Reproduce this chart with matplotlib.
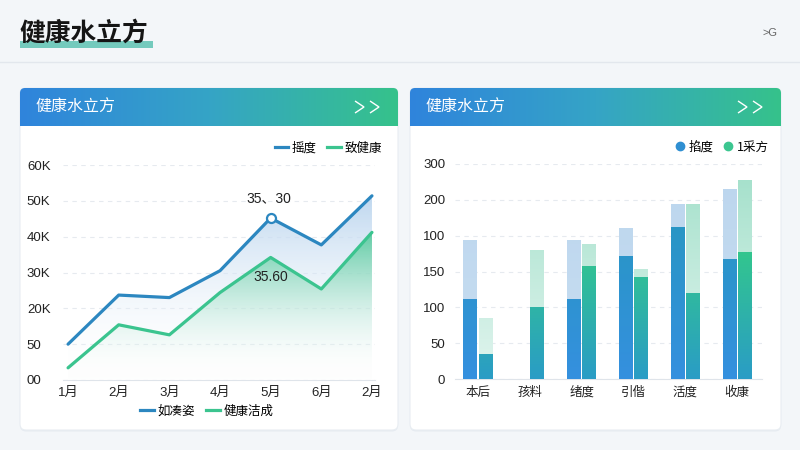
import numpy as np
import matplotlib.pyplot as plt
from matplotlib.patches import FancyBboxPatch, Rectangle
from matplotlib.lines import Line2D
from matplotlib.colors import to_rgba

plt.rcParams['font.family'] = ['Noto Sans CJK SC', 'DejaVu Sans']
NUMFONT = ['Liberation Sans', 'Noto Sans CJK SC', 'DejaVu Sans']

# ---- data ----
months = ['1月', '2月', '3月', '4月', '5月', '6月', '2月']
visits = [10.0, 23.7, 23.0, 30.5, 45.2, 37.7, 51.4]      # K
health = [3.4, 15.4, 12.6, 24.4, 34.2, 25.4, 41.2]       # K
left_yticks = ['00', '50', '20K', '30K', '40K', '50K', '60K']

cats = ['本后', '孩料', '绪度', '引偕', '活度', '收康']
blue_solid = [112, 0, 112, 171, 212, 168]
blue_total = [194, 0, 194, 211, 244, 265]
green_solid = [35, 101, 158, 143, 120, 177]
green_total = [85, 180, 189, 153, 244, 278]
right_yticks = ['0', '50', '100', '150', '100', '200', '300']

BG = '#f3f6f9'
BLUE = '#2c87c0'
GREEN = '#3bc48f'
W, H = 800, 450


def vgrad(top, bot, a_top=1.0, a_bot=1.0, n=256):
    c0 = np.array(to_rgba(bot, a_bot))
    c1 = np.array(to_rgba(top, a_top))
    t = np.linspace(0, 1, n)[:, None, None]
    return c0 + (c1 - c0) * t


def hgrad(stops, n=256):
    pos = np.linspace(0, 1, len(stops))
    cols = np.array([to_rgba(c) for c in stops])
    t = np.linspace(0, 1, n)
    arr = np.stack([np.interp(t, pos, cols[:, k]) for k in range(4)], axis=-1)
    return arr[None, :, :]


def fx(px):
    return px / W


def fy(py):
    return 1 - py / H


fig = plt.figure(figsize=(8, 4.5), dpi=100)
fig.patch.set_facecolor(BG)

# ---- background layer: titles, cards, headers ----
bg = fig.add_axes([0, 0, 1, 1])
bg.set_xlim(0, W)
bg.set_ylim(H, 0)
bg.axis('off')

bg.add_patch(Rectangle((20, 41), 133, 7, color='#5ec3b3', alpha=0.85, lw=0, zorder=1))
bg.text(19, 33, '健康水立方', fontsize=18.5, weight='bold', color='#151515',
        va='center', ha='left', zorder=2)
bg.text(770, 33, '>G', fontsize=8, color='#666666', va='center', ha='center', family=NUMFONT)
bg.plot([0, W], [62, 62], color='#e2e7ed', lw=1)

for x0, x1 in [(20, 398), (410, 781)]:
    bg.add_patch(FancyBboxPatch((x0, 89.5), x1 - x0, 342, boxstyle='round,pad=0,rounding_size=6',
                                fc='#e6ebf1', ec='none', zorder=1))
    card = FancyBboxPatch((x0, 88), x1 - x0, 342, boxstyle='round,pad=0,rounding_size=6',
                          fc='white', ec='#e8edf2', lw=0.8, zorder=2)
    bg.add_patch(card)
    clip = FancyBboxPatch((x0, 88), x1 - x0, 60, boxstyle='round,pad=0,rounding_size=5',
                          fc='none', ec='none')
    bg.add_patch(clip)
    im = bg.imshow(hgrad(['#2f84dc', '#35a4c6', '#36c28b']), extent=(x0, x1, 126, 88),
                   aspect='auto', zorder=3, interpolation='bilinear')
    im.set_clip_path(clip)
    bg.text(x0 + 15, 107, '健康水立方', fontsize=11.5, color='white', va='center', ha='left', zorder=4)
    # thin double chevron
    for cx in (x1 - 43, x1 - 28):
        bg.plot([cx, cx + 9, cx], [101, 107, 113], color='white', lw=1.0, zorder=4,
                solid_joinstyle='miter', solid_capstyle='butt')
bg.set_xlim(0, W)
bg.set_ylim(H, 0)

# ---- left: line / area chart ----
ax1 = fig.add_axes([fx(63), fy(380), fx(375) - fx(63), fy(165) - fy(380)])
ax1.set_facecolor('none')
xs = np.arange(len(months))
ax1.set_xlim(-0.1, 6.06)
ax1.set_ylim(0, 60)

top_fill = ax1.fill_between(xs, visits, 0, color='none', lw=0)
im = ax1.imshow(vgrad('#b9d4ee', '#ffffff', 0.95, 0.0), extent=(-0.1, 6.06, 0, 52),
                origin='lower', aspect='auto', interpolation='bilinear', zorder=1)
im.set_clip_path(top_fill.get_paths()[0], ax1.transData)
low_fill = ax1.fill_between(xs, health, 0, color='none', lw=0)
im = ax1.imshow(vgrad('#55ca9c', '#ffffff', 0.95, 0.0), extent=(-0.1, 6.06, 0, 42),
                origin='lower', aspect='auto', interpolation='bilinear', zorder=2)
im.set_clip_path(low_fill.get_paths()[0], ax1.transData)
ax1.set_xlim(-0.1, 6.06)
ax1.set_ylim(0, 60)

ax1.plot(xs, visits, color=BLUE, lw=2.3, zorder=4, solid_capstyle='round')
ax1.plot(xs, health, color=GREEN, lw=2.3, zorder=4, solid_capstyle='round')
ax1.plot(xs[4], visits[4], 'o', ms=6.5, mfc='white', mec=BLUE, mew=1.6, zorder=5)
ax1.annotate('35、30', (xs[4], visits[4]), xytext=(-1, 14), textcoords='offset points',
             ha='center', va='center', fontsize=10, color='#222222', zorder=6, family=NUMFONT)
ax1.annotate('35.60', (xs[4], health[4]), xytext=(0, -14), textcoords='offset points',
             ha='center', va='center', fontsize=10, color='#222222', zorder=6, family=NUMFONT)

ax1.set_yticks(np.arange(0, 61, 10))
ax1.set_yticklabels(left_yticks, family=NUMFONT)
ax1.set_xticks(xs)
ax1.set_xticklabels(months, family=NUMFONT)
ax1.tick_params(axis='y', length=0, pad=26, labelsize=9.5, labelcolor='#222222')
for t in ax1.get_yticklabels():
    t.set_horizontalalignment('left')
ax1.tick_params(axis='x', length=0, pad=5, labelsize=9.5, labelcolor='#222222')
ax1.grid(axis='y', color='#e6eaef', ls=(0, (4, 4)), lw=0.8)
ax1.set_axisbelow(True)
for s in ['top', 'right', 'left']:
    ax1.spines[s].set_visible(False)
ax1.spines['bottom'].set_color('#dfe4ea')

h1 = [Line2D([], [], color=BLUE, lw=2.3), Line2D([], [], color=GREEN, lw=2.3)]
leg = ax1.legend(h1, ['摇度', '致健康'], loc='center right', bbox_to_anchor=(fx(382), fy(148)),
                 bbox_transform=fig.transFigure, ncol=2, frameon=False, fontsize=9,
                 handlelength=1.1, handletextpad=0.3, columnspacing=0.8, borderpad=0, borderaxespad=0)
ax1.add_artist(leg)
ax1.legend(h1, ['如凑姿', '健康洁成'], loc='center', bbox_to_anchor=(fx(207), fy(411)),
           bbox_transform=fig.transFigure, ncol=2, frameon=False, fontsize=9,
           handlelength=1.1, handletextpad=0.3, columnspacing=0.9, borderpad=0, borderaxespad=0)

# ---- right: bar chart ----
ax2 = fig.add_axes([fx(455), fy(379), fx(762) - fx(455), fy(164) - fy(379)])
ax2.set_facecolor('none')
gx = np.arange(len(cats))
bw = 0.27
off = 0.145
xlim2 = (-0.444, 5.48)
ax2.set_xlim(*xlim2)
ax2.set_ylim(0, 300)


def grad_bars(bars, img, ymax, z):
    for r in bars:
        if r.get_height() <= 0:
            continue
        r.set_facecolor('none')
        r.set_edgecolor('none')
        im = ax2.imshow(img, extent=(r.get_x(), r.get_x() + r.get_width(), 0, ymax),
                        origin='lower', aspect='auto', interpolation='bilinear', zorder=z)
        im.set_clip_path(r)


b = ax2.bar(gx - off, blue_total, bw, zorder=2)
grad_bars(b, vgrad('#bcd6ee', '#c8def1'), 280, 2)
b = ax2.bar(gx + off, green_total, bw, zorder=2)
grad_bars(b, vgrad('#a6e1cc', '#e2f5ef'), 280, 2)
b = ax2.bar(gx - off, blue_solid, bw, zorder=3)
grad_bars(b, vgrad('#2896c4', '#3590df'), 220, 3)
b = ax2.bar(gx + off, green_solid, bw, zorder=3)
grad_bars(b, vgrad('#33c98a', '#2a9cc6'), 190, 3)
ax2.set_xlim(*xlim2)
ax2.set_ylim(0, 300)

ax2.set_yticks(np.arange(0, 301, 50))
ax2.set_yticklabels(right_yticks, family=NUMFONT)
ax2.set_xticks(gx)
ax2.set_xticklabels(cats)
ax2.tick_params(axis='y', length=0, pad=7, labelsize=9.5, labelcolor='#222222')
ax2.tick_params(axis='x', length=0, pad=5, labelsize=9, labelcolor='#222222')
ax2.grid(axis='y', color='#e6eaef', ls=(0, (4, 4)), lw=0.8)
ax2.set_axisbelow(True)
for s in ['top', 'right', 'left']:
    ax2.spines[s].set_visible(False)
ax2.spines['bottom'].set_color('#dfe4ea')

h2 = [Line2D([], [], marker='o', ls='none', color='#2f8fd2', ms=6),
      Line2D([], [], marker='o', ls='none', color='#3cc690', ms=6)]
ax2.legend(h2, ['掐度', '1采方'], loc='center right', bbox_to_anchor=(fx(769), fy(147)),
           bbox_transform=fig.transFigure, ncol=2, frameon=False, fontsize=9,
           handlelength=0.8, handletextpad=0.3, columnspacing=0.8, borderpad=0, borderaxespad=0)

fig.savefig('out.png', dpi=100, facecolor=BG)
